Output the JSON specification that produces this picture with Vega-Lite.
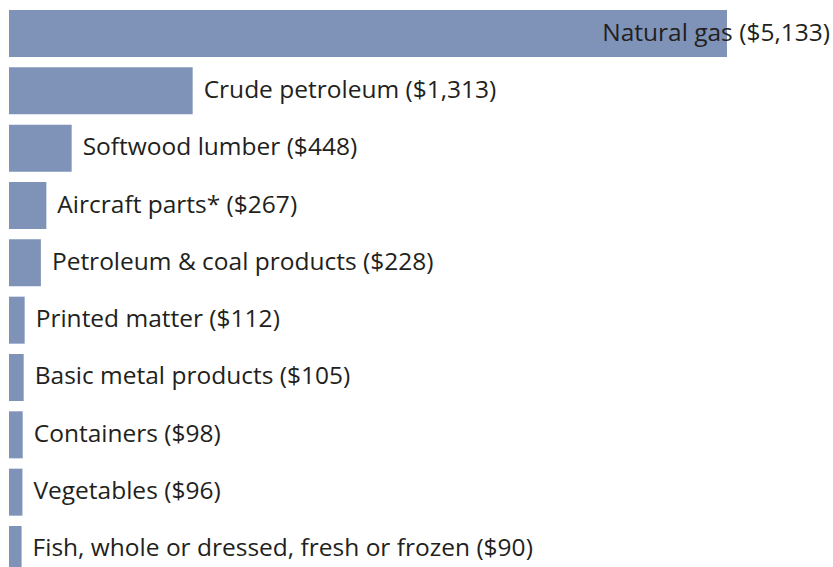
{
  "$schema": "https://vega.github.io/schema/vega-lite/v6.json",
  "width": 718,
  "height": 557,
  "autosize": "none",
  "padding": {"left": 9, "top": 10, "right": 106, "bottom": 0},
  "background": "white",
  "config": {"view": {"stroke": null}},
  "data": {
    "values": [
      {"item": "Natural gas", "value": 5133, "label": "Natural gas ($5,133)", "inside": true},
      {"item": "Crude petroleum", "value": 1313, "label": "Crude petroleum ($1,313)", "inside": false},
      {"item": "Softwood lumber", "value": 448, "label": "Softwood lumber ($448)", "inside": false},
      {"item": "Aircraft parts*", "value": 267, "label": "Aircraft parts* ($267)", "inside": false},
      {"item": "Petroleum & coal products", "value": 228, "label": "Petroleum & coal products ($228)", "inside": false},
      {"item": "Printed matter", "value": 112, "label": "Printed matter ($112)", "inside": false},
      {"item": "Basic metal products", "value": 105, "label": "Basic metal products ($105)", "inside": false},
      {"item": "Containers", "value": 98, "label": "Containers ($98)", "inside": false},
      {"item": "Vegetables", "value": 96, "label": "Vegetables ($96)", "inside": false},
      {"item": "Fish, whole or dressed, fresh or frozen", "value": 90, "label": "Fish, whole or dressed, fresh or frozen ($90)", "inside": false}
    ]
  },
  "encoding": {
    "y": {
      "field": "item",
      "type": "nominal",
      "sort": null,
      "axis": null,
      "scale": {"range": [0, 563], "paddingInner": 0.18, "paddingOuter": 0}
    },
    "x": {
      "field": "value",
      "type": "quantitative",
      "axis": null,
      "scale": {"domain": [0, 5133], "nice": false, "zero": true}
    }
  },
  "layer": [
    {"mark": {"type": "bar", "color": "#7f93b8"}},
    {
      "transform": [{"filter": "!datum.inside"}],
      "mark": {"type": "text", "align": "left", "baseline": "middle", "dx": 11, "font": "Open Sans", "fontSize": 24.5, "color": "#231f20"},
      "encoding": {"text": {"field": "label"}}
    },
    {
      "transform": [{"filter": "datum.inside"}],
      "mark": {"type": "text", "align": "right", "baseline": "middle", "dx": 103, "font": "Open Sans", "fontSize": 24.5, "color": "#231f20"},
      "encoding": {"text": {"field": "label"}}
    }
  ]
}
